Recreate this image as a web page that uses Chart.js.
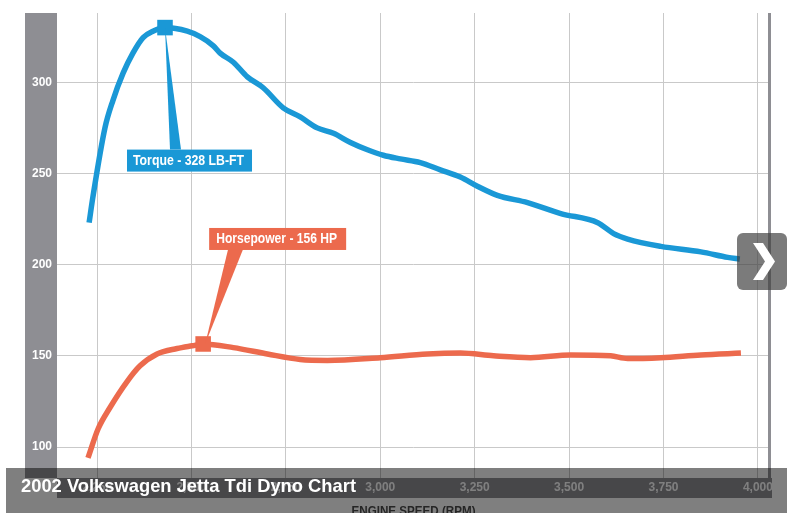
<!DOCTYPE html>
<html lang="en">
<head>
<meta charset="UTF-8">
<title>2002 Volkswagen Jetta Tdi Dyno Chart</title>
<script src="https://cdn.jsdelivr.net/npm/chart.js"></script>
<style>
    body { margin: 0; background: #fff; }
    #wrap { position: relative; width: 793px; height: 513px; overflow: hidden; }
</style>
</head>
<body>
<div id="wrap">
    <canvas id="dyno" width="793" height="513"></canvas>
</div>
<script>
// --- data ---
const torqueRpm = [2229, 2239, 2271, 2292, 2319, 2345, 2372, 2398, 2430, 2489, 2523, 2558, 2576, 2611, 2648, 2690, 2743,
    2788, 2833, 2876, 2921, 2966, 3008, 3053, 3106, 3159, 3212, 3257, 3310, 3390, 3478, 3576, 3618,
    3655, 3743, 3849, 3920, 3952];
const torqueValues = [223, 237, 275, 290, 305, 316, 324.5, 328, 330, 328, 325, 320, 316, 311, 303, 297, 286,
    281, 275, 272, 267, 263, 260, 258, 256, 252, 248, 243, 238, 234, 228, 223, 217,
    214, 210, 207, 204, 203];
const hpRpm = [2226, 2253, 2284, 2330, 2364, 2409, 2462, 2502, 2531, 2611, 2701, 2788, 2860, 3000, 3125, 3212,
    3300, 3398, 3504, 3610, 3655, 3743, 3849, 3955];
const hpValues = [94, 110, 121.5, 136, 144.5, 151, 154, 155.5, 156.5, 154.5, 151, 148, 147.5, 149, 151, 151.5,
    150, 149, 150.5, 150, 148.5, 149, 150.5, 151.5];
const xTicks = [2250, 2500, 2750, 3000, 3250, 3500, 3750, 4000];
const yTicks = [100, 150, 200, 250, 300];
const torquePeak = 8;
const hpPeak = 8;
const calloutLabels = ['Torque - 328 LB-FT', 'Horsepower - 156 HP'];
const xTitle = 'ENGINE SPEED (RPM)';
const caption = '2002 Volkswagen Jetta Tdi Dyno Chart';

const BLUE = '#1a98d6';
const ORANGE = '#ec6a4d';
const BAR = '#8e8e93';

function toPoints(xs, ys) {
    return xs.map((x, i) => ({ x: x, y: ys[i] }));
}

// gray axis bars behind the plot
const backdrop = {
    id: 'backdrop',
    beforeDraw(chart) {
        const c = chart.ctx, a = chart.chartArea;
        c.save();
        c.fillStyle = '#fff';
        c.fillRect(0, 0, chart.width, chart.height);
        c.fillStyle = BAR;
        c.fillRect(25, a.top, a.left - 25, a.bottom - a.top);
        c.fillRect(a.left, a.bottom, a.right - a.left + 2, 20);
        c.restore();
    }
};

// peak callouts
const callouts = {
    id: 'callouts',
    afterDatasetsDraw(chart) {
        const c = chart.ctx;
        const xs = chart.scales.x, ys = chart.scales.y;
        c.save();
        // torque
        let px = xs.getPixelForValue(torqueRpm[torquePeak]);
        let py = ys.getPixelForValue(torqueValues[torquePeak]);
        c.fillStyle = BLUE;
        c.beginPath();
        c.moveTo(px, py);
        c.lineTo(px + 5, py + 122);
        c.lineTo(px + 16, py + 122);
        c.closePath();
        c.fill();
        c.fillRect(px - 38, py + 122, 125, 22);
        c.fillStyle = '#fff';
        c.font = 'bold 14px "Liberation Sans", Arial, sans-serif';
        c.textBaseline = 'middle';
        c.fillText(calloutLabels[0], px - 32, py + 133.5, 111);
        // horsepower
        px = xs.getPixelForValue(hpRpm[hpPeak]);
        py = ys.getPixelForValue(hpValues[hpPeak]);
        c.fillStyle = ORANGE;
        c.beginPath();
        c.moveTo(px + 2, py);
        c.lineTo(px + 25, py - 95);
        c.lineTo(px + 40, py - 95);
        c.closePath();
        c.fill();
        c.fillRect(px + 6, py - 116, 137, 22);
        c.fillStyle = '#fff';
        c.fillText(calloutLabels[1], px + 13, py - 104.5, 121);
        c.restore();
    }
};

// frame line, caption overlay and slideshow arrow
const overlay = {
    id: 'overlay',
    afterDraw(chart) {
        const c = chart.ctx, a = chart.chartArea;
        c.save();
        c.fillStyle = BAR;
        c.fillRect(a.right - 2, a.top, 3, a.bottom - a.top);
        c.fillStyle = '#4a4a4a';
        c.font = 'bold 12px "Liberation Sans", Arial, sans-serif';
        c.textAlign = 'center';
        c.textBaseline = 'top';
        c.fillText(xTitle, (a.left + a.right) / 2, 506, 124);

        c.fillStyle = 'rgba(0,0,0,0.5)';
        c.fillRect(6, 468, 781, 45);
        c.fillStyle = '#fff';
        c.font = 'bold 18.5px "Liberation Sans", Arial, sans-serif';
        c.textAlign = 'left';
        c.textBaseline = 'alphabetic';
        c.fillText(caption, 21, 492, 335);

        c.fillStyle = 'rgba(60,60,60,0.68)';
        c.beginPath();
        c.roundRect(737, 233, 50, 57, 6);
        c.fill();
        c.fillStyle = '#fff';
        c.beginPath();
        c.moveTo(753, 243);
        c.lineTo(763, 243);
        c.lineTo(775, 261.5);
        c.lineTo(763, 280);
        c.lineTo(753, 280);
        c.lineTo(765, 261.5);
        c.closePath();
        c.fill();
        c.restore();
    }
};

new Chart(document.getElementById('dyno').getContext('2d'), {
    type: 'line',
    data: {
        datasets: [
            {
                label: 'Torque',
                data: toPoints(torqueRpm, torqueValues),
                borderColor: BLUE,
                backgroundColor: BLUE,
                borderWidth: 5.5,
                cubicInterpolationMode: 'monotone',
                pointStyle: 'rect',
                pointRadius: ctx => ctx.dataIndex === torquePeak ? 11 : 0,
                pointBorderWidth: 0
            },
            {
                label: 'Horsepower',
                data: toPoints(hpRpm, hpValues),
                borderColor: ORANGE,
                backgroundColor: ORANGE,
                borderWidth: 5.5,
                cubicInterpolationMode: 'monotone',
                pointStyle: 'rect',
                pointRadius: ctx => ctx.dataIndex === hpPeak ? 11 : 0,
                pointBorderWidth: 0
            }
        ]
    },
    options: {
        responsive: false,
        animation: false,
        layout: { padding: { left: 0, top: 13, right: 23, bottom: 0 } },
        plugins: { legend: { display: false }, tooltip: { enabled: false } },
        scales: {
            x: {
                type: 'linear',
                min: 2144,
                max: 4032,
                afterBuildTicks: s => { s.ticks = xTicks.map(v => ({ value: v })); },
                afterFit: s => { s.height = 35; },
                grid: { color: '#c9c9c9', lineWidth: 1, drawTicks: false },
                border: { display: false },
                ticks: {
                    padding: 2,
                    color: '#fff',
                    font: { family: '"Liberation Sans", Arial, sans-serif', size: 12, weight: 'bold' },
                    callback: v => v.toLocaleString('en-US'),
                    maxRotation: 0
                }
            },
            y: {
                min: 83,
                max: 338,
                afterBuildTicks: s => { s.ticks = yTicks.map(v => ({ value: v })); },
                afterFit: s => { s.width = 57; },
                grid: { color: '#c9c9c9', lineWidth: 1, drawTicks: false },
                border: { display: false },
                ticks: {
                    padding: 5,
                    color: '#fff',
                    font: { family: '"Liberation Sans", Arial, sans-serif', size: 12, weight: 'bold' }
                }
            }
        }
    },
    plugins: [backdrop, callouts, overlay]
});
</script>
</body>
</html>
